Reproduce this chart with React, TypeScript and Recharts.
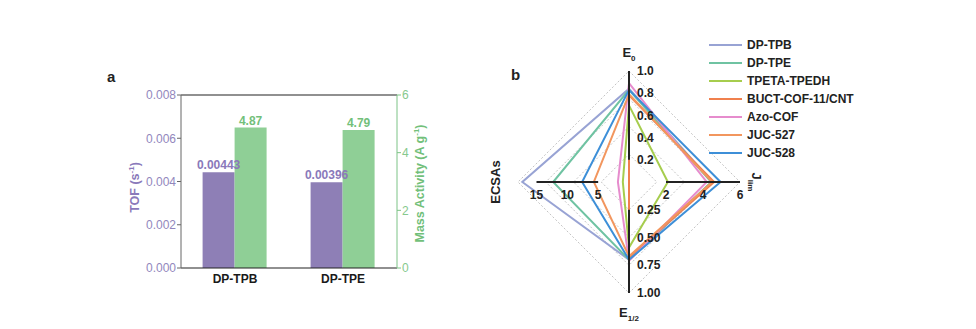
import React from 'react';
import {
  BarChart, Bar, XAxis, YAxis, LabelList, ReferenceLine,
  RadarChart, Radar, PolarGrid, PolarAngleAxis, PolarRadiusAxis, Legend,
} from 'recharts';

const FONT = 'Arial, "Liberation Sans", sans-serif';

// ---------- Panel a data ----------
const samples = ['DP-TPB', 'DP-TPE'];
const tofValues = [0.00443, 0.00396];
const massActivity = [4.87, 4.79];
const tofTicks = [0, 0.002, 0.004, 0.006, 0.008];
const massTicks = [0, 2, 4, 6];

// ---------- Panel b data ----------
const radarAxes = ['E0', 'Jlim', 'E12', 'ECSAs'];
const radarAxisMax = [1, 6, 1, 18];
const catalysts = ['DP-TPB', 'DP-TPE', 'TPETA-TPEDH', 'BUCT-COF-11/CNT', 'Azo-COF', 'JUC-527', 'JUC-528'];
const dpTpbVals = [0.84, 4.5, 0.7, 17.3];
const dpTpeVals = [0.83, 4.45, 0.7, 12.3];
const tpetaVals = [0.69, 2.1, 0.59, 1.0];
const buctVals = [0.78, 4.6, 0.68, 0];
const azoVals = [0.89, 4.2, 0.71, 1.8];
const juc527Vals = [0.79, 4.5, 0.67, 5.7];
const juc528Vals = [0.83, 4.95, 0.7, 7.6];
const catalystValues = [dpTpbVals, dpTpeVals, tpetaVals, buctVals, azoVals, juc527Vals, juc528Vals];
const catalystColors = ['#98a3d4', '#6fc3a2', '#a6cd4e', '#f0804e', '#e68ccd', '#f2965e', '#3d8fd8'];
const e0Ticks = [0.2, 0.4, 0.6, 0.8, 1.0];
const jlimTicks = [2, 4, 6];
const e12Ticks = [0.25, 0.5, 0.75, 1.0];
const ecsaTicks = [5, 10, 15];

const barData = samples.map((s, i) => ({ name: s, tof: tofValues[i], mass: massActivity[i] }));
const radarData = radarAxes.map((a, j) => {
  const row: any = { axis: a };
  catalystValues.forEach((vals, k) => { row['s' + k] = vals[j] / radarAxisMax[j]; });
  return row;
});

const PURPLE = '#8e7fb6';
const GREEN = '#8fcf96';
const PURPLE_TXT = '#8a79ba';
const GREEN_TXT = '#72c07a';

const TofLabel = (props: any) => {
  const vb = props.viewBox;
  const x = vb.x + 35;
  const y = vb.y + vb.height / 2 + 6;
  return (
    <text x={x} y={y} transform={`rotate(-90, ${x}, ${y})`} textAnchor="middle" dy="0.35em"
      fill={PURPLE_TXT} fontFamily={FONT} fontWeight="bold" fontSize={12.5}>
      TOF (s<tspan fontSize={8} dy={-5}>-1</tspan><tspan dy={5}>)</tspan>
    </text>
  );
};

const MassLabel = (props: any) => {
  const vb = props.viewBox;
  const x = vb.x + 23;
  const y = vb.y + vb.height / 2 + 2;
  return (
    <text x={x} y={y} transform={`rotate(-90, ${x}, ${y})`} textAnchor="middle" dy="0.35em"
      fill={GREEN_TXT} fontFamily={FONT} fontWeight="bold" fontSize={12.5}>
      Mass Activity (A g<tspan fontSize={8} dy={-5}>-1</tspan><tspan dy={5}>)</tspan>
    </text>
  );
};

const tickStyle = { fontFamily: FONT, fontSize: 12, fontWeight: 'bold', fill: '#222' } as const;

const makeRadiusTick = (kind: string) => (props: any) => {
  const { x, y, payload } = props;
  const v = payload.value;
  if (kind === 'e0') {
    return <text x={x + 8} y={y} dy="0.35em" textAnchor="start" {...tickStyle}>{v.toFixed(1)}</text>;
  }
  if (kind === 'e12') {
    return <text x={x + 8} y={y} dy="0.35em" textAnchor="start" {...tickStyle}>{v.toFixed(2)}</text>;
  }
  return <text x={x} y={y + 13} dy="0.35em" textAnchor="middle" {...tickStyle}>{String(v)}</text>;
};

const AngleTick = (props: any) => {
  const { x, y, payload } = props;
  const v = payload.value;
  const st = { fontFamily: FONT, fontSize: 13, fontWeight: 'bold', fill: '#222' } as const;
  if (v === 'E0') {
    return <text x={x} y={y - 11} dy="0.35em" textAnchor="middle" {...st}>E<tspan fontSize={8} dy={4}>0</tspan></text>;
  }
  if (v === 'E12') {
    return <text x={x} y={y + 11} dy="0.35em" textAnchor="middle" {...st}>E<tspan fontSize={8} dy={4}>1/2</tspan></text>;
  }
  if (v === 'Jlim') {
    const xx = x + 9;
    return <text x={xx} y={y} dy="0.35em" textAnchor="middle" transform={`rotate(90, ${xx}, ${y})`} {...st}>J<tspan fontSize={8} dy={4}>lim</tspan></text>;
  }
  const xx = x - 15;
  return <text x={xx} y={y} dy="0.35em" textAnchor="middle" transform={`rotate(-90, ${xx}, ${y})`} {...st}>ECSAs</text>;
};

const renderLegend = (props: any) => {
  const items = [...(props.payload || [])].sort(
    (a: any, b: any) => catalysts.indexOf(a.value) - catalysts.indexOf(b.value));
  return (
    <div style={{ fontFamily: FONT }}>
      {items.map((e: any) => (
        <div key={e.value} style={{ display: 'flex', alignItems: 'center', height: 18 }}>
          <svg width={34} height={10} style={{ display: 'block' }}>
            <line x1={0} y1={5} x2={33} y2={5} stroke={e.color} strokeWidth={2} />
          </svg>
          <span style={{ marginLeft: 4, fontSize: 12, fontWeight: 'bold', color: '#222', whiteSpace: 'nowrap' }}>{e.value}</span>
        </div>
      ))}
    </div>
  );
};

export default function App() {
  return (
    <div style={{ position: 'absolute', left: 0, top: 0, width: 976, height: 329, background: '#fff', overflow: 'hidden' }}>
      <div style={{ position: 'absolute', left: 107, top: 68, fontFamily: FONT, fontWeight: 'bold', fontSize: 15, color: '#222' }}>a</div>
      <div style={{ position: 'absolute', left: 511, top: 66, fontFamily: FONT, fontWeight: 'bold', fontSize: 15, color: '#222' }}>b</div>

      <div style={{ position: 'absolute', left: 100, top: 60 }}>
        <BarChart width={340} height={240} data={barData} margin={{ top: 35, right: 0, bottom: 2, left: 0 }}
          barGap={0} barCategoryGap="20%">
          <XAxis dataKey="name" height={30} tickLine={false} tickMargin={0}
            axisLine={{ stroke: '#222', strokeWidth: 1.2 }}
            tick={{ fontFamily: FONT, fontSize: 12, fontWeight: 'bold', fill: '#1a1a1a' }} />
          <YAxis yAxisId="left" width={81} domain={[0, 0.008]} ticks={tofTicks} tickSize={4} tickMargin={1}
            tickFormatter={(v: number) => v.toFixed(3)}
            axisLine={{ stroke: '#666' }} tickLine={{ stroke: '#666' }}
            tick={{ fontFamily: FONT, fontSize: 12, fill: '#9287bd' }}
            label={<TofLabel />} />
          <YAxis yAxisId="right" orientation="right" width={43} domain={[0, 6]} ticks={massTicks} tickSize={4} tickMargin={1}
            axisLine={{ stroke: '#7dc386' }} tickLine={{ stroke: '#7dc386' }}
            tick={{ fontFamily: FONT, fontSize: 12, fill: '#86c98d' }}
            label={<MassLabel />} />
          <ReferenceLine yAxisId="left" y={0.008} stroke="#222" strokeWidth={1.2} />
          <Bar yAxisId="left" dataKey="tof" fill={PURPLE} isAnimationActive={false}>
            <LabelList dataKey="tof" position="top" offset={3} fill={PURPLE_TXT}
              style={{ fontFamily: FONT, fontSize: 12, fontWeight: 'bold' }} />
          </Bar>
          <Bar yAxisId="right" dataKey="mass" fill={GREEN} isAnimationActive={false}>
            <LabelList dataKey="mass" position="top" offset={3} fill={GREEN_TXT}
              style={{ fontFamily: FONT, fontSize: 12, fontWeight: 'bold' }} />
          </Bar>
        </BarChart>
      </div>

      <div style={{ position: 'absolute', left: 470, top: 0 }}>
        <RadarChart width={506} height={329} data={radarData} cx={159} cy={182} outerRadius={111}
          margin={{ top: 0, right: 0, bottom: 0, left: 0 }}>
          <PolarGrid gridType="polygon" radialLines={false} radiusAxisId="norm" stroke="#c4c4c4" strokeDasharray="2 2" />
          <PolarAngleAxis dataKey="axis" axisLine={false} tickLine={false} tick={<AngleTick />} />
          <PolarRadiusAxis radiusAxisId="norm" type="number" domain={[0, 1]} ticks={[0.25, 0.5, 0.75, 1]}
            allowDataOverflow tick={false} axisLine={false} />
          {catalysts.map((c, k) => (
            <Radar key={c} name={c} dataKey={'s' + k} radiusAxisId="norm" stroke={catalystColors[k]} strokeWidth={2}
              fill="none" fillOpacity={0} dot={false} isAnimationActive={false} />
          ))}
          <PolarRadiusAxis radiusAxisId="e0" angle={90} type="number" domain={[0, 1]} ticks={e0Ticks} allowDataOverflow
            axisLine={{ stroke: '#222', strokeWidth: 2 }} tick={makeRadiusTick('e0')} />
          <PolarRadiusAxis radiusAxisId="jlim" angle={0} type="number" domain={[0, 6]} ticks={jlimTicks} allowDataOverflow
            axisLine={{ stroke: '#222', strokeWidth: 2 }} tick={makeRadiusTick('jlim')} />
          <PolarRadiusAxis radiusAxisId="e12" angle={270} type="number" domain={[0, 1]} ticks={e12Ticks} allowDataOverflow
            axisLine={{ stroke: '#222', strokeWidth: 2 }} tick={makeRadiusTick('e12')} />
          <PolarRadiusAxis radiusAxisId="ecsa" angle={180} type="number" domain={[0, 18]} ticks={ecsaTicks} allowDataOverflow
            axisLine={{ stroke: '#222', strokeWidth: 2 }} tick={makeRadiusTick('ecsa')} />
          <Legend layout="vertical" align="center" verticalAlign="middle" content={renderLegend}
            wrapperStyle={{ left: 239, top: 36, width: 220, height: 'auto' }} />
        </RadarChart>
      </div>
    </div>
  );
}
